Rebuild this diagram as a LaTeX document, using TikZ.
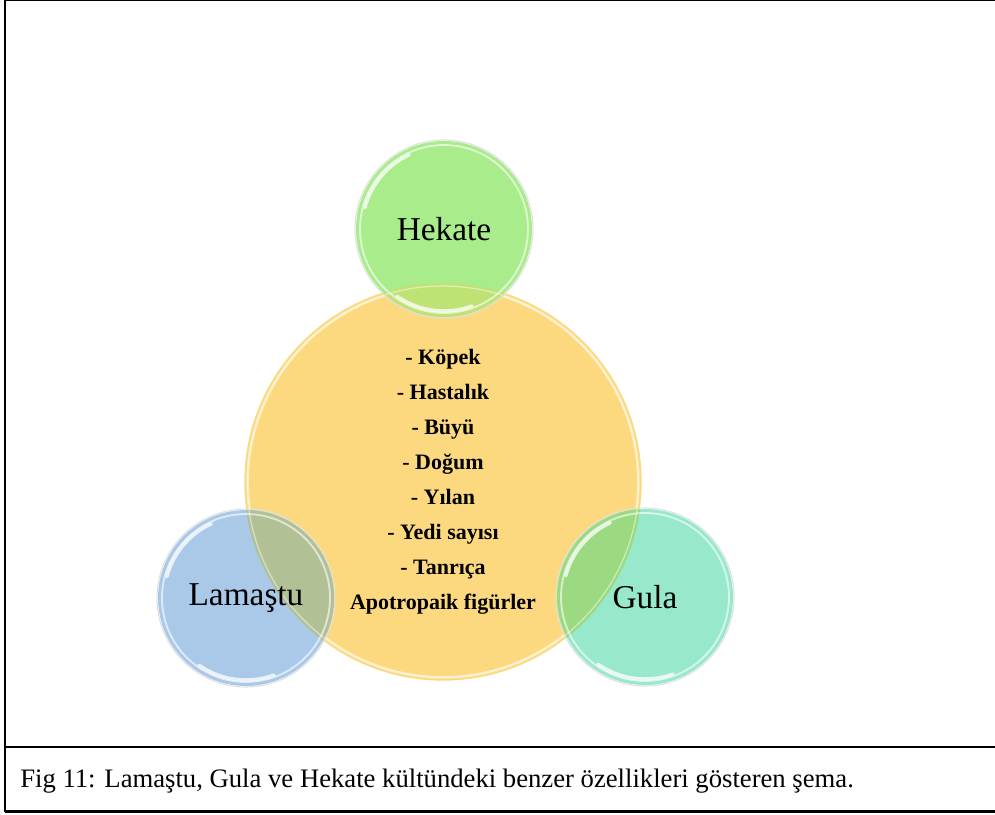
\documentclass[tikz,border=0pt]{standalone}
\usepackage{fontspec}
\setmainfont{Liberation Serif}
\usepackage{tikz}
\usetikzlibrary{positioning,calc}

\definecolor{hekategreen}{RGB}{168,236,140}
\definecolor{lamablue}{RGB}{170,201,233}
\definecolor{gulateal}{RGB}{152,233,204}
\definecolor{sharedyellow}{RGB}{252,217,127}
\definecolor{hekatemix}{RGB}{190,226,115}
\definecolor{lamamix}{RGB}{178,192,150}
\definecolor{gulamix}{RGB}{155,218,128}

\tikzset{
  bubble/.style={circle, inner sep=0pt, minimum size=132pt},
  name text/.style={text=black, font=\fontsize{25}{28}\selectfont},
  rim/.style={white, line width=1.4pt, opacity=.6},
  shine/.style={white, line width=2.6pt, opacity=.75, line cap=round},
  shadow ring/.style={black!12, line width=0.8pt},
  frame/.style={line width=2.2pt}
}

\newcommand{\glossy}[2]{%
  \draw[shadow ring] (#1.center) circle[radius=#2+1];
  \draw[rim] (#1.center) circle[radius=#2-4];
  \draw[shine] ($(#1.center)+(70:#2-6)$) arc[start angle=70, end angle=125, radius=#2-6];
  \draw[shine] ($(#1.center)+(195:#2-6)$) arc[start angle=195, end angle=245, radius=#2-6];
}

\begin{document}
\begin{tikzpicture}[x=0.75pt, y=-0.75pt]
    \useasboundingbox (0,0) rectangle (995,814);

    % Frame
    \draw[line width=1pt] (5,0.5) -- (995,0.5);
    \draw[frame] (5,0) -- (5,812);
    \draw[frame] (5,747) -- (995,747);
    \draw[frame] (5,811.5) -- (995,811.5);

    % Shared features circle
    \node[bubble, fill=sharedyellow, minimum size=298pt] (shared) at (443,482) {};
    \draw[rim] (shared.center) circle[radius=195];

    % Deity circles
    \node[bubble, fill=hekategreen] (hekate) at (444,229) {};
    \node[bubble, fill=lamablue] (lamastu) at (246,598) {};
    \node[bubble, fill=gulateal] (gula) at (645,597) {};

    % Overlaps
    \begin{scope}
      \clip (shared.center) circle[radius=199];
      \fill[hekatemix] (hekate.center) circle[radius=88];
      \fill[lamamix] (lamastu.center) circle[radius=88];
      \fill[gulamix] (gula.center) circle[radius=88];
    \end{scope}
    \draw[white, line width=1pt, opacity=.45] (shared.center) circle[radius=196];

    \glossy{hekate}{88}
    \glossy{lamastu}{88}
    \glossy{gula}{88}

    % Labels
    \node[name text] (hekatelabel) at (hekate.center) {Hekate};
    \node[name text] (lamastulabel) at (lamastu.center) {Lamaştu};
    \node[name text] (gulalabel) at (gula.center) {Gula};
    \node[font=\bfseries\fontsize{16.5}{26.3}\selectfont, align=center] (features) at (shared.center)
      {- Köpek\\- Hastalık\\- Büyü\\- Doğum\\- Yılan\\- Yedi sayısı\\- Tanrıça\\Apotropaik figürler};

    % Caption
    \node[anchor=base west, font=\fontsize{20}{22}\selectfont, inner sep=0pt] (caption) at (20,787)
      {Fig 11: Lamaştu, Gula ve Hekate kültündeki benzer özellikleri gösteren şema.};
\end{tikzpicture}
\end{document}
